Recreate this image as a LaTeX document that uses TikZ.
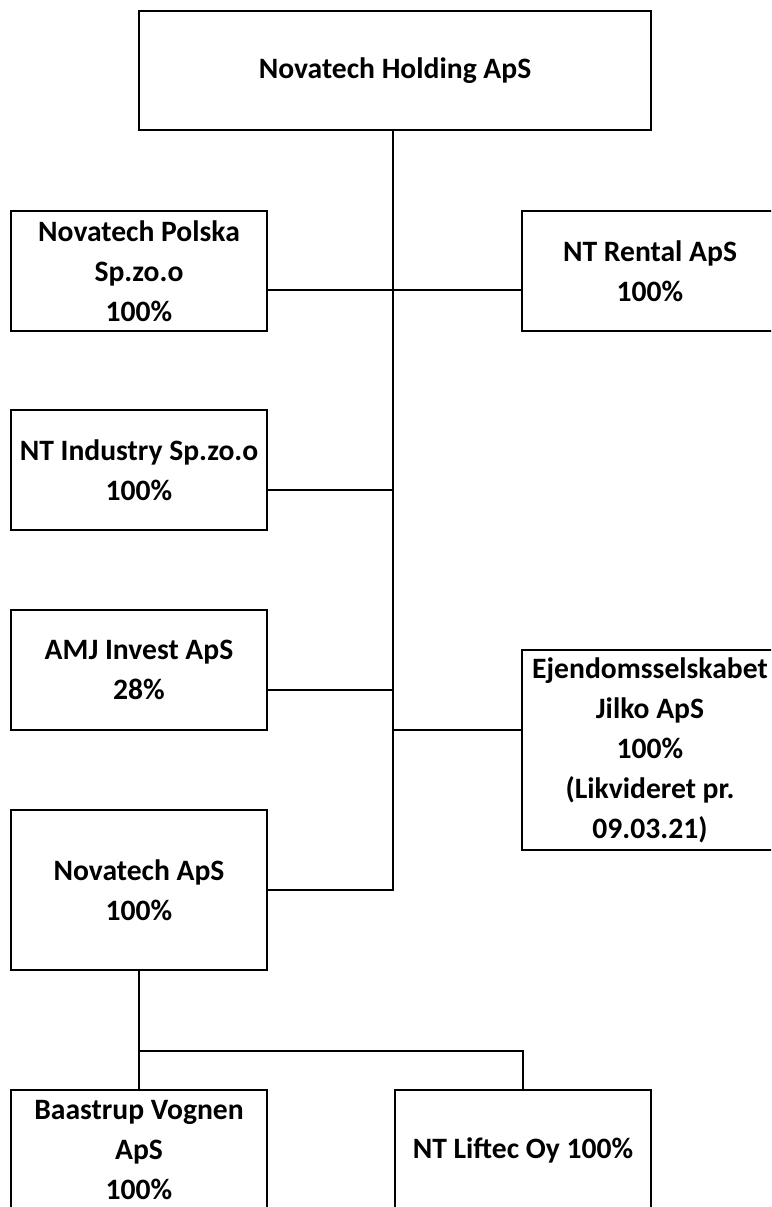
\documentclass[tikz,border=0pt]{standalone}
\usepackage{fontspec}
\setmainfont{Carlito}
\begin{document}
\begin{tikzpicture}[x=1pt,y=-1pt,
  box/.style={draw=black,line width=1.8pt,inner sep=0pt,outer sep=0pt,
    minimum width=256pt,align=center,
    font=\bfseries\fontsize{29.6}{40}\selectfont},
  conn/.style={line width=1.8pt,draw=black}]
\useasboundingbox (0,0) rectangle (771,1207);
\clip (0,0) rectangle (771,1207);
\fill[white] (0,0) rectangle (771,1207);
% nodes
\node[box,minimum width=512pt,minimum height=119pt] (hold) at (395,70.5) {Novatech Holding ApS};
\node[box,minimum height=120pt] (pol) at (139,271) {Novatech Polska\\Sp.zo.o\\100\%};
\node[box,minimum height=120pt] (ren) at (650,271) {NT Rental ApS\\100\%};
\node[box,minimum height=120pt] (ind) at (139,470) {NT Industry Sp.zo.o\\100\%};
\node[box,minimum height=120pt] (amj) at (139,670) {AMJ Invest ApS\\28\%};
\node[box,minimum height=200pt] (ejd) at (650,750) {Ejendomsselskabet\\Jilko ApS\\100\%\\(Likvideret pr.\\09.03.21)};
\node[box,minimum height=160pt] (nov) at (139,890) {Novatech ApS\\100\%};
\node[box,minimum height=120pt] (baa) at (139,1150) {Baastrup Vognen\\ApS\\100\%};
\node[box,minimum height=120pt] (lif) at (523,1150) {NT Liftec Oy 100\%};
% junctions
\coordinate (j1) at (393,290);
\coordinate (j2) at (393,490);
\coordinate (j3) at (393,690);
\coordinate (j4) at (393,730);
\coordinate (j5) at (393,890);
\coordinate (k1) at (139,1051);
% connectors
\draw[conn] (hold.south -| j1) -- (j5) -- (nov.east |- j5);
\draw[conn] (pol.east |- j1) -- (ren.west |- j1);
\draw[conn] (ind.east |- j2) -- (j2);
\draw[conn] (amj.east |- j3) -- (j3);
\draw[conn] (j4) -- (ejd.west |- j4);
\draw[conn] (nov.south) -- (baa.north);
\draw[conn] (k1) -- (k1 -| lif.north) -- (lif.north);
\end{tikzpicture}
\end{document}
